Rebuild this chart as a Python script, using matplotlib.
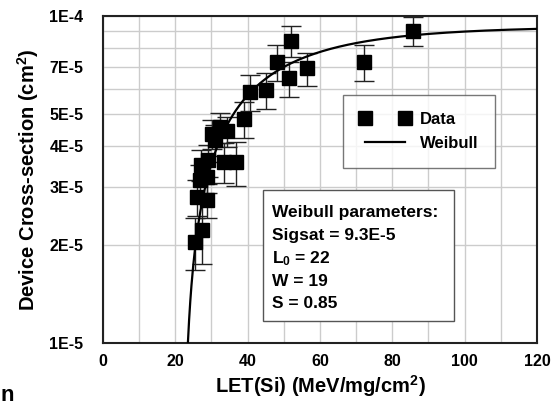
import numpy as np
import matplotlib.pyplot as plt
from matplotlib.patches import Rectangle
from matplotlib.ticker import FixedLocator, NullFormatter

plt.rcParams['font.family'] = ['Liberation Sans', 'DejaVu Sans']
plt.rcParams['font.weight'] = 'bold'
plt.rcParams['mathtext.default'] = 'regular'

# measured cross-section vs LET
let_si = [25.4, 27.3, 25.9, 28.7, 26.8, 28.7, 27.1, 29.0, 33.5, 36.8,
          30.1, 32.3, 34.3, 31.0, 39.1, 40.6, 45.1, 48.2, 52.0, 51.5,
          56.5, 72.2, 85.8]
sigma = [2.04, 2.22, 2.80, 2.74, 3.15, 3.22, 3.50, 3.62, 3.58, 3.58,
         4.36, 4.58, 4.45, 4.18, 4.85, 5.87, 5.94, 7.25, 8.40, 6.45,
         6.92, 7.25, 9.00]
sigma_err = [0.37, 0.48, 0.35, 0.33, 0.35, 0.35, 0.38, 0.40, 0.50, 0.55,
             0.45, 0.48, 0.46, 0.45, 0.62, 0.75, 0.75, 0.90, 0.92, 0.80,
             0.80, 0.90, 0.92]

# Weibull fit parameters
sig_sat = 9.3e-5
l0 = 22
w = 19
s = 0.85

y_ticks = [1e-5, 2e-5, 3e-5, 4e-5, 5e-5, 7e-5, 1e-4]
y_tick_labels = ['1E-5', '2E-5', '3E-5', '4E-5', '5E-5', '7E-5', '1E-4']

x = np.array(let_si)
y = np.array(sigma) * 1e-5
yerr = np.array(sigma_err) * 1e-5

fig = plt.figure(figsize=(5.52, 4.01), dpi=100)
ax = fig.add_axes([0.1866, 0.1446, 0.7862, 0.8154])

# fit curve
lf = np.linspace(l0 + 0.01, 120, 600)
sf = sig_sat * (1 - np.exp(-((lf - l0) / w) ** s))
line, = ax.plot(lf, sf, color='black', lw=1.6, zorder=4)

ax.errorbar(x, y, yerr=yerr, fmt='none', ecolor='#222222', elinewidth=1,
            capsize=7.2, capthick=1, zorder=3)
pts, = ax.plot(x, y, 's', color='black', markersize=10, zorder=5)

ax.set_yscale('log')
ax.set_xlim(0, 120)
ax.set_ylim(1e-5, 1e-4)

ax.set_xticks(np.arange(0, 121, 20))
ax.set_xticks(np.arange(0, 121, 10), minor=True)
ax.yaxis.set_major_locator(FixedLocator(y_ticks))
ax.yaxis.set_minor_locator(FixedLocator(np.arange(1, 11) * 1e-5))
ax.set_yticklabels(y_tick_labels)
ax.yaxis.set_minor_formatter(NullFormatter())

ax.grid(which='both', color='#cccccc', lw=1)
ax.set_axisbelow(True)
ax.tick_params(which='both', length=0, labelsize=11.5)
ax.tick_params(axis='y', pad=14)
ax.tick_params(axis='x', pad=8)
for sp in ax.spines.values():
    sp.set_linewidth(1.5)
    sp.set_color('#222222')

ax.set_xlabel('LET(Si) (MeV/mg/cm$^{2}$)', fontsize=14.5, fontweight='bold', labelpad=3)
ax.set_ylabel('Device Cross-section (cm$^{2}$)', fontsize=14.5, fontweight='bold', labelpad=6)

leg = ax.legend([pts, line], ['Data', 'Weibull'], numpoints=2,
                loc='upper left', bbox_to_anchor=(0.553, 0.758),
                fontsize=12, frameon=True, fancybox=False,
                edgecolor='#555555', borderpad=1.0, handlelength=3.0,
                labelspacing=0.55, handletextpad=0.6, borderaxespad=0)
leg.get_frame().set_linewidth(1)
leg.set_zorder(6)

# fit parameter box
box = Rectangle((0.369, 0.067), 0.440, 0.401, transform=ax.transAxes,
                facecolor='white', edgecolor='#555555', lw=1, zorder=6)
ax.add_patch(box)
params = ['Weibull parameters:', 'Sigsat = 9.3E-5', 'L$_0$ = 22',
          'W = 19', 'S = 0.85']
for i, t in enumerate(params):
    ax.text(0.389, 0.398 - i * 0.0695, t, transform=ax.transAxes,
            fontsize=12.5, fontweight='bold', va='center', ha='left', zorder=7)

fig.text(0.0, -0.012, 'n', fontsize=16, fontweight='bold', va='bottom', ha='left')

fig.savefig('out.png', dpi=100)
